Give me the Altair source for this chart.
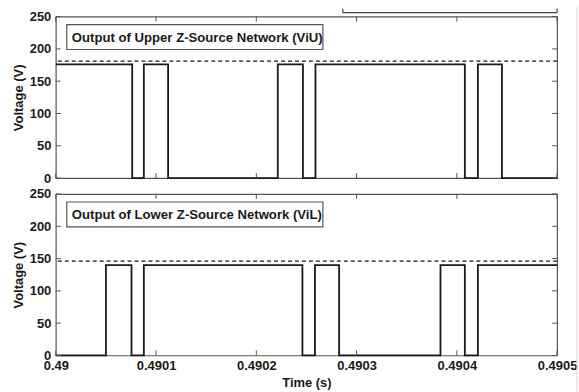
import altair as alt
import pandas as pd

# ---- data ----
upper_t = [0.49, 0.4900762, 0.4900878, 0.490112, 0.4902214, 0.4902465, 0.490259,
           0.490408, 0.490421, 0.490445, 0.4905]
upper_v = [176, 0, 176, 0, 176, 0, 176, 0, 176, 0, 0]
upper_ref = [181]

lower_t = [0.49, 0.49005, 0.4900755, 0.4900878, 0.490246, 0.4902585, 0.4902826,
           0.4903837, 0.490408, 0.490421, 0.4905]
lower_v = [0, 140, 0, 140, 0, 140, 0, 140, 0, 140, 140]
lower_ref = [146]

x_ticks = [0.49, 0.4901, 0.4902, 0.4903, 0.4904, 0.4905]
y_ticks = [0, 50, 100, 150, 200, 250]
titles = ["Output of Upper Z-Source Network (ViU)", "Output of Lower Z-Source Network (ViL)"]

W, H = 503, 162
FONT = "Liberation Sans"
INK = "#1a1a1a"
FRAME = "#555555"

xscale = alt.Scale(domain=[0.49, 0.4905], nice=False, zero=False)
yscale = alt.Scale(domain=[0, 250], nice=False)


def panel(ts, vs, ref, title, show_x):
    df = pd.DataFrame({"t": ts, "v": vs})
    if show_x:
        xaxis = alt.Axis(values=x_ticks, labelExpr="format(datum.value, '.4~f')",
                         ticks=False, domain=False, grid=False, labelPadding=4,
                         labelFlush=False, labelOverlap=False, title="Time (s)",
                         titlePadding=4)
    else:
        xaxis = None
    yaxis = alt.Axis(values=y_ticks, ticks=False, domain=False, grid=False,
                     labelPadding=5, labelFlush=False, labelOverlap=False,
                     title="Voltage (V)", titlePadding=3, minExtent=27, maxExtent=27)
    X = alt.X("t:Q", scale=xscale, axis=xaxis)
    Y = alt.Y("v:Q", scale=yscale, axis=yaxis)
    line = alt.Chart(df).mark_line(interpolate="step-after", color=INK, strokeWidth=1.8).encode(
        x=X, y=Y)
    dash = alt.Chart(pd.DataFrame({"v": ref})).mark_rule(
        color=INK, strokeDash=[4, 3], strokeWidth=1.3).encode(y=Y)
    ydf = pd.DataFrame({"v": y_ticks})
    xdf = pd.DataFrame({"t": x_ticks})
    tl = alt.Chart(ydf).mark_rule(color=FRAME).encode(y=Y, x=alt.value(0), x2=alt.value(5))
    tr = alt.Chart(ydf).mark_rule(color=FRAME).encode(y=Y, x=alt.value(W), x2=alt.value(W - 5))
    tt = alt.Chart(xdf).mark_rule(color=FRAME).encode(x=X, y=alt.value(0), y2=alt.value(5))
    tb = alt.Chart(xdf).mark_rule(color=FRAME).encode(x=X, y=alt.value(H), y2=alt.value(H - 5))
    tdf = pd.DataFrame({"label": [title]})
    box = alt.Chart(tdf).mark_rect(fill="white", stroke=FRAME, strokeWidth=1.2).encode(
        x=alt.value(11), x2=alt.value(268), y=alt.value(8), y2=alt.value(33))
    txt = alt.Chart(tdf).mark_text(align="left", baseline="middle", font=FONT,
                                   fontSize=13.2, fontWeight="bold", color=INK).encode(
        x=alt.value(16), y=alt.value(21), text="label:N")
    layers = [line, dash, tl, tr, tt, tb, box, txt]
    if show_x:
        pink = alt.Chart(tdf).mark_rule(color="#f7c9c9").encode(
            x=alt.value(W + 20), y=alt.value(0), y2=alt.value(H + 37))
    else:
        pink = alt.Chart(tdf).mark_rule(color="#f7c9c9").encode(
            x=alt.value(W + 20), y=alt.value(-10), y2=alt.value(H + 16))
        art = alt.Chart(tdf).mark_rule(color="#444444", strokeWidth=1.2).encode(
            x=alt.value(288), x2=alt.value(W), y=alt.value(-4))
        artl = alt.Chart(tdf).mark_rule(color="#444444", strokeWidth=1.2).encode(
            x=alt.value(288), y=alt.value(-8), y2=alt.value(-4))
        artr = alt.Chart(tdf).mark_rule(color="#444444", strokeWidth=1.2).encode(
            x=alt.value(W), y=alt.value(-8), y2=alt.value(-4))
        layers += [art, artl, artr]
    layers.append(pink)
    return alt.layer(*layers).properties(width=W, height=H)


top = panel(upper_t, upper_v, upper_ref, titles[0], False)
bottom = panel(lower_t, lower_v, lower_ref, titles[1], True)

chart = alt.vconcat(top, bottom, spacing=16, bounds="flush").properties(
    padding={"left": 12, "top": 4, "right": 0, "bottom": 0},
    background="white",
).configure_view(stroke=FRAME, strokeWidth=1.2).configure_axis(
    labelFont=FONT, titleFont=FONT, labelFontSize=13, titleFontSize=13,
    labelColor=INK, titleColor=INK, labelFontWeight="bold", titleFontWeight="bold",
)

chart.save("out.html", embed_options={"renderer": "svg", "actions": False})
